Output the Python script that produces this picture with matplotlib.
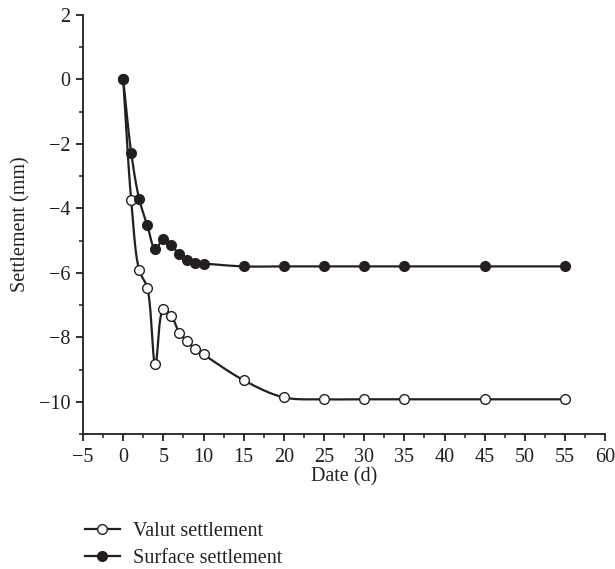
import numpy as np
import matplotlib
matplotlib.use("Agg")
import matplotlib.pyplot as plt
from matplotlib.ticker import MultipleLocator
from matplotlib.lines import Line2D

days = [0, 1, 2, 3, 4, 5, 6, 7, 8, 9, 10, 15, 20, 25, 30, 35, 45, 55]
vault = [0, -3.75, -5.92, -6.46, -8.84, -7.13, -7.33, -7.86, -8.12, -8.37, -8.53,
         -9.33, -9.86, -9.92, -9.92, -9.92, -9.92, -9.92]
surface = [0, -2.28, -3.72, -4.52, -5.27, -4.95, -5.14, -5.43, -5.6, -5.68, -5.71,
           -5.8, -5.8, -5.8, -5.8, -5.8, -5.8, -5.8]
x_ticks = list(range(-5, 61, 5))
y_ticks = list(range(-10, 3, 2))

plt.rcParams['font.family'] = ['Liberation Serif', 'DejaVu Serif']
plt.rcParams['axes.unicode_minus'] = True

INK = '#231f20'
FS = 14.5
SX, SY = 8.03, 32.2  # scale for smooth curve parameterization


def catmull_rom(xs, ys, n=30, alpha=0.5):
    P = np.column_stack([np.asarray(xs, float) * SX, np.asarray(ys, float) * SY])
    P = np.vstack([2 * P[0] - P[1], P, 2 * P[-1] - P[-2]])
    out = []
    for i in range(1, len(P) - 2):
        p0, p1, p2, p3 = P[i - 1], P[i], P[i + 1], P[i + 2]
        t0 = 0.0
        t1 = t0 + np.linalg.norm(p1 - p0) ** alpha
        t2 = t1 + np.linalg.norm(p2 - p1) ** alpha
        t3 = t2 + np.linalg.norm(p3 - p2) ** alpha
        t = np.linspace(t1, t2, n)[:, None]
        A1 = (t1 - t) / (t1 - t0) * p0 + (t - t0) / (t1 - t0) * p1
        A2 = (t2 - t) / (t2 - t1) * p1 + (t - t1) / (t2 - t1) * p2
        A3 = (t3 - t) / (t3 - t2) * p2 + (t - t2) / (t3 - t2) * p3
        B1 = (t2 - t) / (t2 - t0) * A1 + (t - t0) / (t2 - t0) * A2
        B2 = (t3 - t) / (t3 - t1) * A2 + (t - t1) / (t3 - t1) * A3
        C = (t2 - t) / (t2 - t1) * B1 + (t - t1) / (t2 - t1) * B2
        out.append(C if i == 1 else C[1:])
    C = np.vstack(out)
    return C[:, 0] / SX, C[:, 1] / SY


fig = plt.figure(figsize=(6.15, 5.69), dpi=100)
ax = fig.add_axes([0.135, 0.237, 0.849, 0.737])

for vals, face in [(vault, 'white'), (surface, INK)]:
    cx, cy = catmull_rom(days, vals)
    ax.plot(cx, cy, color=INK, lw=1.6, zorder=2)
    ax.plot(days, vals, ls='none', marker='o', ms=7.0, mfc=face, mec=INK,
            mew=1.0, zorder=3)

ax.set_xlim(-5, 60)
ax.set_ylim(-11, 2)
ax.set_xticks(x_ticks)
ax.set_yticks(y_ticks)
ax.xaxis.set_minor_locator(MultipleLocator(2.5))
ax.yaxis.set_minor_locator(MultipleLocator(1))
for s in ['top', 'right']:
    ax.spines[s].set_visible(False)
for s in ['left', 'bottom']:
    ax.spines[s].set_color(INK)
    ax.spines[s].set_linewidth(1.3)
ax.tick_params(which='major', direction='out', length=5, width=1.3,
               colors=INK, labelsize=FS, labelcolor=INK)
ax.tick_params(axis='x', which='major', pad=5)
ax.tick_params(axis='y', which='major', pad=4)
ax.tick_params(which='minor', direction='out', length=3, width=1.1, colors=INK)
ax.set_xlabel('Date (d)', fontsize=FS, color=INK, labelpad=0)
ax.set_ylabel('Settlement (mm)', fontsize=FS, color=INK, labelpad=6)

handles = [
    Line2D([], [], color=INK, lw=1.6, marker='o', ms=7.0, mfc='white', mec=INK),
    Line2D([], [], color=INK, lw=1.6, marker='o', ms=7.0, mfc=INK, mec=INK),
]
fig.legend(handles, ['Valut settlement', 'Surface settlement'],
           loc='upper left', bbox_to_anchor=(0.138, 0.083), frameon=False,
           fontsize=FS, labelspacing=0.4, handlelength=1.75, handletextpad=0.65,
           borderaxespad=0, borderpad=0, labelcolor=INK)

fig.savefig('out.png', dpi=100)
